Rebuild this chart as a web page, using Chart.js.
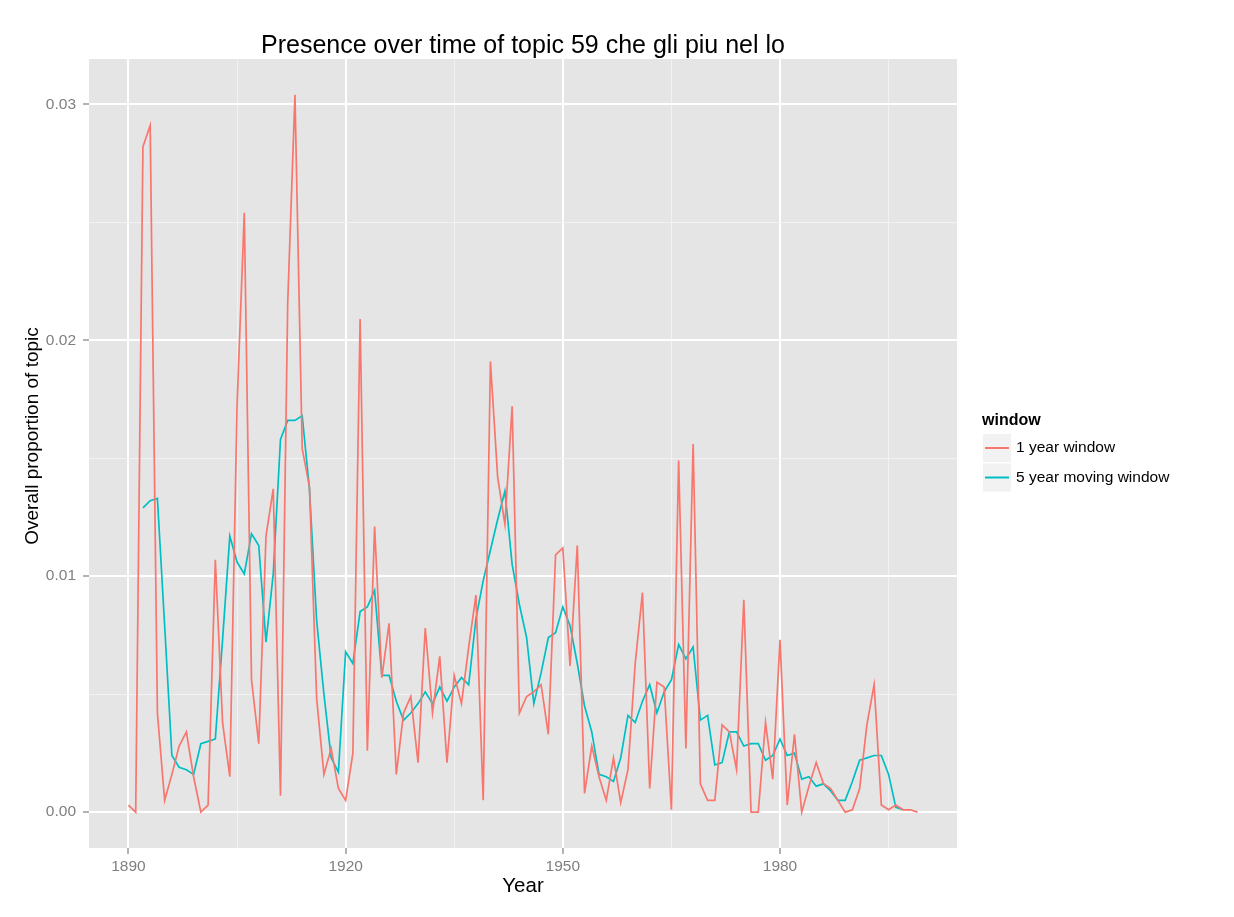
<!DOCTYPE html>
<html>
<head>
<meta charset="utf-8">
<script src="https://cdn.jsdelivr.net/npm/chart.js@4/dist/chart.umd.min.js"></script>
<style>
  html, body { margin: 0; padding: 0; background: #ffffff; }
  #wrap { width: 1234px; height: 917px; position: relative; }
</style>
</head>
<body>
<div id="wrap"><canvas id="c" width="1234" height="917"></canvas></div>
<script>
// ---- data ----
const years = [
  1890,1891,1892,1893,1894,1895,1896,1897,1898,1899,
  1900,1901,1902,1903,1904,1905,1906,1907,1908,1909,
  1910,1911,1912,1913,1914,1915,1916,1917,1918,1919,
  1920,1921,1922,1923,1924,1925,1926,1927,1928,1929,
  1930,1931,1932,1933,1934,1935,1936,1937,1938,1939,
  1940,1941,1942,1943,1944,1945,1946,1947,1948,1949,
  1950,1951,1952,1953,1954,1955,1956,1957,1958,1959,
  1960,1961,1962,1963,1964,1965,1966,1967,1968,1969,
  1970,1971,1972,1973,1974,1975,1976,1977,1978,1979,
  1980,1981,1982,1983,1984,1985,1986,1987,1988,1989,
  1990,1991,1992,1993,1994,1995,1996,1997,1998,1999
];

const oneYear = [
  0.0003,0.0000,0.0282,0.0291,0.0042,0.0005,0.0016,0.0028,0.0034,0.0015,
  0.0000,0.0003,0.0107,0.0038,0.0015,0.0172,0.0254,0.0056,0.0029,0.0117,
  0.0137,0.0007,0.0216,0.0304,0.0154,0.0138,0.0048,0.0016,0.0027,0.0010,
  0.0005,0.0025,0.0209,0.0026,0.0121,0.0057,0.0080,0.0016,0.0042,0.0049,
  0.0021,0.0078,0.0042,0.0066,0.0021,0.0058,0.0046,0.0070,0.0092,0.0005,
  0.0191,0.0142,0.0122,0.0172,0.0042,0.0049,0.0051,0.0054,0.0033,0.0109,
  0.0112,0.0062,0.0113,0.0008,0.0028,0.0015,0.0005,0.0023,0.0004,0.0018,
  0.0063,0.0093,0.0010,0.0055,0.0053,0.0001,0.0149,0.0027,0.0156,0.0012,
  0.0005,0.0005,0.0037,0.0034,0.0018,0.0090,0.0000,0.0000,0.0038,0.0014,
  0.0073,0.0003,0.0033,0.0000,0.0011,0.0021,0.0012,0.0010,0.0005,0.0000,
  0.0001,0.0010,0.0037,0.0054,0.0003,0.0001,0.0003,0.0001,0.0001,0.0000
];

const fiveYear = [
  null,  null,  0.0129,0.0132,0.0133,0.0079,0.0024,0.0019,0.0018,0.0016,
  0.0029,0.0030,0.0031,0.0073,0.0117,0.0106,0.0101,0.0118,0.0113,0.0072,
  0.0101,0.0158,0.0166,0.0166,0.0168,0.0137,0.0081,0.0050,0.0023,0.0017,
  0.0068,0.0063,0.0085,0.0087,0.0094,0.0058,0.0058,0.0047,0.0039,0.0042,
  0.0046,0.0051,0.0046,0.0053,0.0047,0.0053,0.0057,0.0054,0.0082,0.0098,
  0.0111,0.0124,0.0136,0.0105,0.0088,0.0074,0.0046,0.0059,0.0074,0.0076,
  0.0087,0.0079,0.0063,0.0045,0.0034,0.0016,0.0015,0.0013,0.0023,0.0041,
  0.0038,0.0047,0.0054,0.0042,0.0051,0.0056,0.0071,0.0065,0.0070,0.0039,
  0.0041,0.0020,0.0021,0.0034,0.0034,0.0028,0.0029,0.0029,0.0022,0.0024,
  0.0031,0.0024,0.0025,0.0014,0.0015,0.0011,0.0012,0.0009,0.0005,0.0005,
  0.0013,0.0022,0.0023,0.0024,0.0024,0.0016,0.0002,0.0001,null,  null
];

const seriesNames = ["1 year window", "5 year moving window"];
const xMajorTicks = [1890, 1920, 1950, 1980];
const xMinorTicks = [1905, 1935, 1965, 1995];
const yMajorTicks = [0.00, 0.01, 0.02, 0.03];
const yMinorTicks = [0.005, 0.015, 0.025];
const titleText = "Presence over time of topic 59 che gli piu nel lo";
const xTitle = "Year";
const yTitle = "Overall proportion of topic";
const legendTitle = "window";

// ---- styling ----
const FONT = "'Liberation Sans', Arial, Helvetica, sans-serif";
const COLORS = ["#F8766D", "#00BFC4"];

const isMajorX = v => xMajorTicks.indexOf(v) >= 0;
const isMajorY = v => yMajorTicks.some(m => Math.abs(m - v) < 1e-9);

const panelBg = {
  id: "panelBg",
  afterLayout(chart) {
    // centre the plot title over the panel, as ggplot does
    if (chart.titleBlock) {
      chart.titleBlock.left = chart.chartArea.left;
      chart.titleBlock.right = chart.chartArea.right;
    }
  },
  beforeDraw(chart) {
    const {ctx, chartArea: a} = chart;
    ctx.save();
    ctx.fillStyle = "#e5e5e5";
    ctx.fillRect(a.left, a.top, a.right - a.left, a.bottom - a.top);
    ctx.restore();
  }
};

const yAxisTitle = {
  id: "yAxisTitle",
  afterDraw(chart) {
    const ctx = chart.ctx;
    ctx.save();
    ctx.translate(32.5, 436);
    ctx.rotate(-Math.PI / 2);
    ctx.textAlign = "center";
    ctx.textBaseline = "middle";
    ctx.fillStyle = "#000000";
    ctx.font = "19px " + FONT;
    ctx.fillText(yTitle, 0, 0);
    ctx.restore();
  }
};

const ggLegend = {
  id: "ggLegend",
  afterDraw(chart) {
    const ctx = chart.ctx;
    ctx.save();
    ctx.textBaseline = "middle";
    ctx.textAlign = "left";
    ctx.fillStyle = "#000000";
    ctx.font = "bold 16px " + FONT;
    ctx.fillText(legendTitle, 982, 421);
    const boxX = 983, boxY0 = 434, boxW = 28, boxH = 29.5;
    chart.data.datasets.forEach((ds, i) => {
      const y = boxY0 + i * boxH;
      ctx.fillStyle = "#f2f2f2";
      ctx.fillRect(boxX, y, boxW, boxH - 1.5);
      const cy = y + (boxH - 1.5) / 2;
      ctx.strokeStyle = ds.borderColor;
      ctx.lineWidth = 2;
      ctx.beginPath();
      ctx.moveTo(boxX + 2, cy);
      ctx.lineTo(boxX + boxW - 2, cy);
      ctx.stroke();
      ctx.fillStyle = "#000000";
      ctx.font = "15.5px " + FONT;
      ctx.fillText(ds.label, 1016, cy);
    });
    ctx.restore();
  }
};

const chart = new Chart(document.getElementById("c"), {
  type: "line",
  data: {
    datasets: [
      {
        label: seriesNames[0],
        data: years.map((y, i) => ({x: y, y: oneYear[i]})),
        borderColor: COLORS[0],
        backgroundColor: COLORS[0],
        borderWidth: 1.7,
        pointRadius: 0,
        tension: 0,
        fill: false
      },
      {
        label: seriesNames[1],
        data: years.map((y, i) => ({x: y, y: fiveYear[i]})),
        borderColor: COLORS[1],
        backgroundColor: COLORS[1],
        borderWidth: 1.7,
        pointRadius: 0,
        tension: 0,
        fill: false,
        spanGaps: false
      }
    ]
  },
  options: {
    responsive: false,
    devicePixelRatio: 1,
    animation: false,
    layout: { padding: { top: 0, left: 0, right: 277, bottom: 0 } },
    plugins: {
      legend: { display: false },
      tooltip: { enabled: false },
      title: {
        display: true,
        text: titleText,
        color: "#000000",
        font: { family: FONT, size: 25, weight: "normal", lineHeight: 1 },
        padding: { top: 34, bottom: 0 }
      }
    },
    scales: {
      x: {
        type: "linear",
        min: 1884.55,
        max: 2004.45,
        afterBuildTicks(scale) {
          scale.ticks = xMajorTicks.concat(xMinorTicks).sort((a, b) => a - b).map(v => ({value: v}));
        },
        afterFit(scale) { scale.height = 69; },
        border: { display: false },
        grid: {
          color: c => isMajorX(c.tick.value) ? "#ffffff" : "#f2f2f2",
          lineWidth: c => isMajorX(c.tick.value) ? 2 : 1,
          tickColor: c => isMajorX(c.tick.value) ? "#7f7f7f" : "rgba(0,0,0,0)",
          tickWidth: 1.2,
          tickLength: 6,
          drawTicks: true
        },
        ticks: {
          autoSkip: false,
          maxRotation: 0,
          padding: 3.5,
          color: "#7f7f7f",
          font: { family: FONT, size: 15.5 },
          callback: v => isMajorX(v) ? String(v) : ""
        },
        title: {
          display: true,
          text: xTitle,
          color: "#000000",
          font: { family: FONT, size: 20.5 },
          padding: { top: 0, bottom: 18 }
        }
      },
      y: {
        type: "linear",
        min: -0.00152,
        max: 0.03192,
        afterBuildTicks(scale) {
          scale.ticks = yMajorTicks.concat(yMinorTicks).sort((a, b) => a - b).map(v => ({value: v}));
        },
        afterFit(scale) { scale.width = 89; },
        border: { display: false },
        grid: {
          color: c => isMajorY(c.tick.value) ? "#ffffff" : "#f2f2f2",
          lineWidth: c => isMajorY(c.tick.value) ? 2 : 1,
          tickColor: c => isMajorY(c.tick.value) ? "#7f7f7f" : "rgba(0,0,0,0)",
          tickWidth: 1.2,
          tickLength: 6,
          drawTicks: true
        },
        ticks: {
          autoSkip: false,
          padding: 7,
          color: "#7f7f7f",
          font: { family: FONT, size: 15.5 },
          callback: v => isMajorY(v) ? v.toFixed(2) : ""
        },
        title: { display: false }
      }
    }
  },
  plugins: [panelBg, yAxisTitle, ggLegend]
});
</script>
</body>
</html>
